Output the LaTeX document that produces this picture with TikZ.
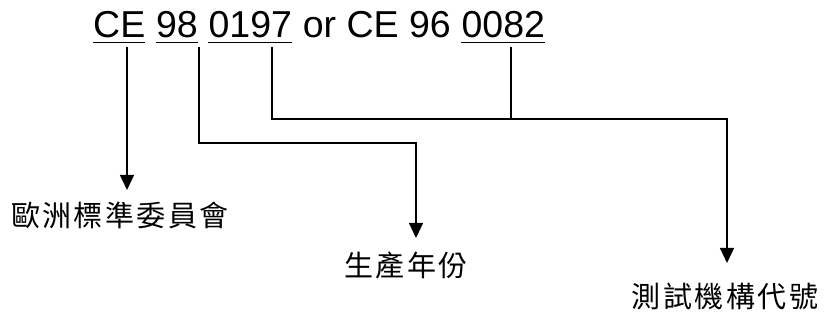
\documentclass[tikz,border=0pt]{standalone}
\usepackage{fontspec}
\setmainfont{Liberation Sans}
\newfontfamily\cjk{Noto Sans CJK TC}
\usetikzlibrary{arrows.meta,calc}
\begin{document}
\begin{tikzpicture}[x=1pt,y=1pt,
  word/.style={inner sep=0pt,anchor=base west,font=\fontsize{37.5}{40}\selectfont},
  lab/.style={inner sep=0pt,font=\cjk\fontsize{29}{32}\selectfont},
  conn/.style={line width=1.3pt,-{Triangle[width=14pt,length=15pt]}},
  plain/.style={line width=1.3pt},
  uline/.style={line width=1.6pt}]
\useasboundingbox (0,0) rectangle (824,329);
\def\gap{10.4}
% title words
\node[word] (ce)  at (93,291)  {CE};
\node[word] (yr)  at ($(ce.base east)+(\gap,0)$)  {98};
\node[word] (num) at ($(yr.base east)+(\gap,0)$)  {0197};
\node[word] (mid) at ($(num.base east)+(\gap,0)$) {or CE 96};
\node[word] (alt) at ($(mid.base east)+(\gap,0)$) {0082};
\foreach \n in {ce,yr,num,alt}
  \draw[uline] ($(\n.base west)+(0,-4.5)$) -- ($(\n.base east)+(0,-4.5)$);
% labels
\node[lab] (l1) at (120,114) {歐\hspace{2.5pt}洲\hspace{2.5pt}標\hspace{2.5pt}準\hspace{2.5pt}委\hspace{2.5pt}員\hspace{2.5pt}會};
\node[lab] (l2) at (406,64)  {生\hspace{2.5pt}產\hspace{2.5pt}年\hspace{2.5pt}份};
\node[lab] (l3) at (725,33)  {測\hspace{2.5pt}試\hspace{2.5pt}機\hspace{2.5pt}構\hspace{2.5pt}代\hspace{2.5pt}號};
% connector coordinates
\coordinate (s1) at (127,282);
\coordinate (e1) at (127,139);
\coordinate (s2) at (199,282);
\coordinate (b2) at (199,186);
\coordinate (c2) at (416,186);
\coordinate (e2) at (416,91);
\coordinate (s3) at (272,282);
\coordinate (b3) at (272,210);
\coordinate (c3) at (727,210);
\coordinate (e3) at (727,66);
\coordinate (s4) at (511,282);
\coordinate (j4) at (511,210);
% connectors
\draw[conn] (s1) -- (e1);
\draw[conn] (s2) -- (b2) -- (c2) -- (e2);
\draw[conn] (s3) -- (b3) -- (c3) -- (e3);
\draw[plain] (s4) -- (j4);
\end{tikzpicture}
\end{document}
